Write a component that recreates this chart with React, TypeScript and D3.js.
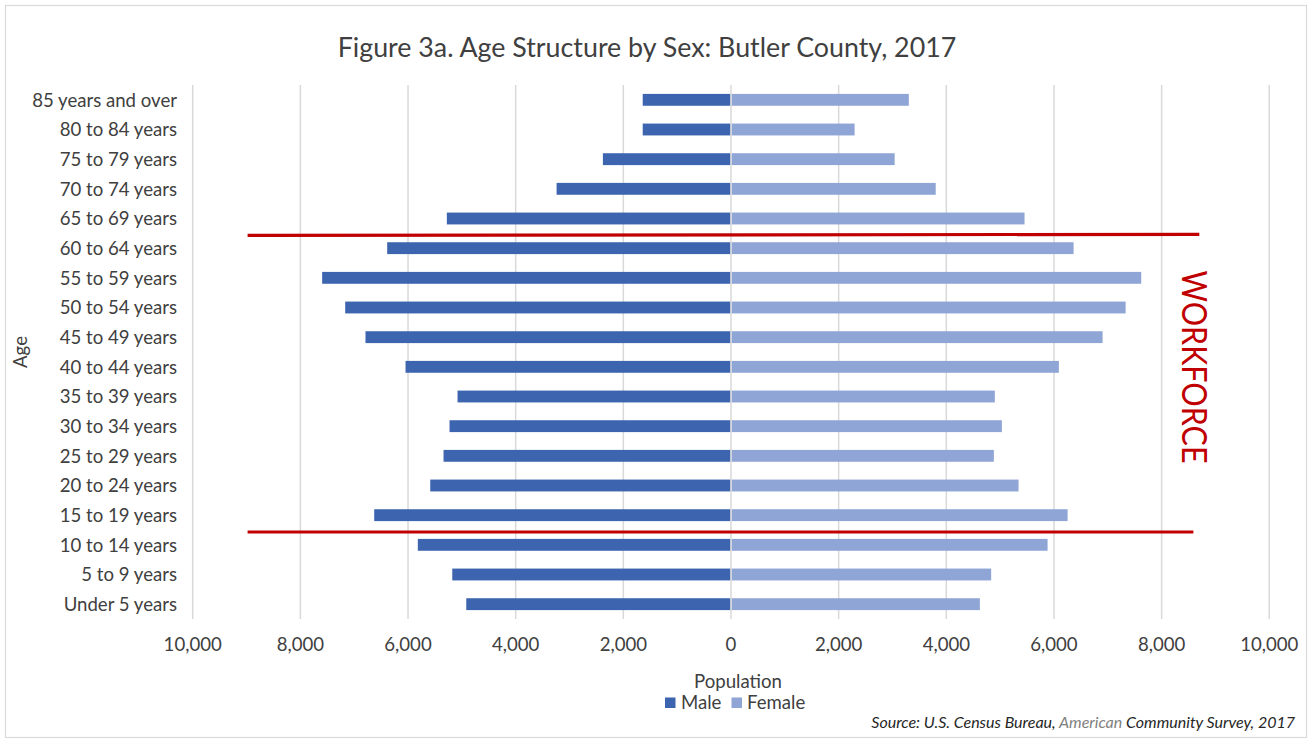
import React from "react";
import * as d3 from "d3";

const categories = [
  "Under 5 years", "5 to 9 years", "10 to 14 years", "15 to 19 years", "20 to 24 years",
  "25 to 29 years", "30 to 34 years", "35 to 39 years", "40 to 44 years", "45 to 49 years",
  "50 to 54 years", "55 to 59 years", "60 to 64 years", "65 to 69 years", "70 to 74 years",
  "75 to 79 years", "80 to 84 years", "85 years and over",
];
const male = [4918, 5178, 5818, 6628, 5587, 5340, 5229, 5080, 6046, 6790, 7167, 7595, 6387, 5279, 3240, 2380, 1640, 1640];
const female = [4623, 4833, 5881, 6253, 5342, 4883, 5032, 4901, 6091, 6903, 7331, 7621, 6364, 5453, 3803, 3040, 2296, 3303];
const xTicks = [-10000, -8000, -6000, -4000, -2000, 0, 2000, 4000, 6000, 8000, 10000];
// workforce bracket lines: [x start value, x end value, categories either side of the boundary]
const workforceTop = { from: -8980, to: 8700, above: "65 to 69 years", below: "60 to 64 years" };
const workforceBottom = { from: -8980, to: 8590, above: "15 to 19 years", below: "10 to 14 years" };

const W = 1310;
const H = 742;
const FONT = "Lato, 'Open Sans', sans-serif";
const MALE_C = "#3D64AE";
const FEMALE_C = "#8FA5D6";
const TEXT_C = "#404040";
const FS = 18.6;

export default function App() {
  const x = d3.scaleLinear().domain([-10000, 10000]).range([192.7, 1269.3]);
  const y = d3
    .scaleBand<string>()
    .domain([...categories].reverse())
    .range([85, 619])
    .paddingInner(0.6)
    .paddingOuter(0.3);
  const bw = y.bandwidth();
  const fmt = d3.format(",");
  const boundary = (a: string, b: string) =>
    ((y(a)! + bw / 2) + (y(b)! + bw / 2)) / 2 + 2;

  const topY = boundary(workforceTop.above, workforceTop.below);
  const botY = boundary(workforceBottom.above, workforceBottom.below);

  return (
    <svg
      width={W}
      height={H}
      style={{ position: "absolute", left: 0, top: 0, background: "#fff" }}
      fontFamily={FONT}
    >
      <rect x={5.5} y={5.5} width={1301} height={732} fill="#fff" stroke="#d9d9d9" strokeWidth={1.2} />
      <text x={647} y={57} textAnchor="middle" fontSize={26.8} fill={TEXT_C}>
        Figure 3a. Age Structure by Sex: Butler County, 2017
      </text>

      {/* gridlines */}
      {xTicks.map((t) => (
        <line key={"g" + t} x1={x(t)} x2={x(t)} y1={85} y2={619} stroke="#d9d9d9" strokeWidth={1.5} />
      ))}

      {/* bars */}
      {categories.map((c, i) => (
        <g key={c}>
          <rect x={x(-male[i])} y={y(c)!} width={x(0) - x(-male[i]) - 0.8} height={bw} fill={MALE_C} />
          <rect x={x(0) + 0.8} y={y(c)!} width={x(female[i]) - x(0) - 0.8} height={bw} fill={FEMALE_C} />
        </g>
      ))}

      {/* category labels */}
      {categories.map((c) => (
        <text key={"l" + c} x={177} y={y(c)! + bw / 2} dy="0.36em" textAnchor="end" fontSize={FS} fill={TEXT_C}>
          {c}
        </text>
      ))}

      {/* x tick labels */}
      {xTicks.map((t) => (
        <text key={"t" + t} x={x(t)} y={651} textAnchor="middle" fontSize={FS} fill={TEXT_C}>
          {fmt(Math.abs(t))}
        </text>
      ))}

      {/* axis titles */}
      <text x={738} y={688} textAnchor="middle" fontSize={FS} fill={TEXT_C}>Population</text>
      <text transform={`translate(27,352) rotate(-90)`} textAnchor="middle" fontSize={FS} fill={TEXT_C}>Age</text>

      {/* workforce annotation */}
      <line x1={x(workforceTop.from)} x2={x(workforceTop.to)} y1={topY} y2={topY - 1} stroke="#C00000" strokeWidth={3.2} />
      <line x1={x(workforceBottom.from)} x2={x(workforceBottom.to)} y1={botY} y2={botY} stroke="#C00000" strokeWidth={3.2} />
      <text
        transform={`translate(1182,367) rotate(90)`}
        textAnchor="middle"
        fontSize={34}
        fill="#C00000"
        textLength={193}
        lengthAdjust="spacingAndGlyphs"
      >
        WORKFORCE
      </text>

      {/* legend */}
      <rect x={665} y={697.5} width={10.5} height={10.5} fill={MALE_C} />
      <text x={681} y={708.5} fontSize={FS} fill={TEXT_C}>Male</text>
      <rect x={731.5} y={697.5} width={10.5} height={10.5} fill={FEMALE_C} />
      <text x={747} y={708.5} fontSize={FS} fill={TEXT_C}>Female</text>

      {/* source */}
      <text x={1295} y={728} textAnchor="end" fontSize={16} fontStyle="italic" fill="#262626">
        Source: U.S. Census Bureau, <tspan fill="#7f7f7f">American</tspan> Community Survey, 2017
      </text>
    </svg>
  );
}
